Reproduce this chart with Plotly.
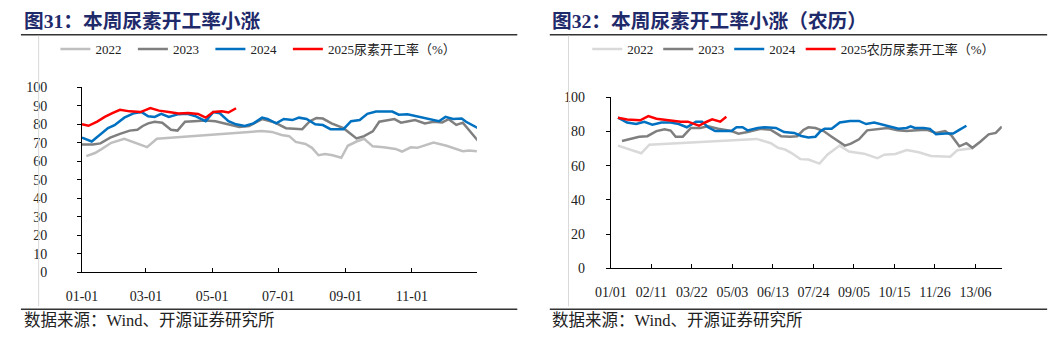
import plotly.graph_objects as go

W, H = 1057, 342

# ---------------- Left panel (calendar day of year) ----------------
tick_days_L = [0, 59, 120, 181, 243, 304, 364]
tick_text_L = ["01-01", "03-01", "05-01", "07-01", "09-01", "11-01", ""]

days_2022_L = [4, 12, 18, 27, 39, 60, 69, 166, 175, 184, 191, 197, 206, 212, 218, 224, 231, 239,
               245, 253, 260, 268, 278, 289, 295, 303, 309, 324, 336, 351, 357, 364]
vals_2022_L = [62.8, 64.5, 66.6, 70.0, 72.2, 67.7, 72.2, 76.4, 75.9, 74.2, 73.6, 70.5, 69.4, 67.3,
               63.3, 63.9, 63.3, 61.9, 68.4, 70.7, 72.2, 68.1, 67.6, 66.7, 65.3, 67.6, 67.3, 70.2,
               68.4, 65.5, 65.8, 65.5]

days_2023_L = [0, 10, 17, 26, 35, 44, 51, 56, 61, 67, 74, 82, 88, 95, 103, 114, 123, 129, 138,
               145, 154, 166, 178, 188, 203, 210, 216, 222, 230, 241, 253, 260, 268, 274, 288,
               294, 301, 307, 316, 324, 332, 338, 345, 351, 365]
vals_2023_L = [69.1, 69.1, 69.7, 72.8, 74.8, 76.6, 77.1, 79.1, 80.5, 81.4, 80.9, 77.1, 76.6, 81.4,
               81.7, 82.1, 81.7, 80.9, 79.5, 78.6, 79.1, 82.8, 80.9, 77.9, 77.4, 81.7, 83.4, 83.1,
               80.5, 77.9, 72.4, 73.6, 76.2, 81.4, 82.8, 80.9, 81.7, 82.3, 80.5, 81.4, 81.0, 82.8,
               79.7, 80.9, 71.1]

days_2024_L = [0, 9, 24, 30, 39, 48, 55, 61, 67, 73, 80, 89, 97, 105, 114, 121, 127, 135, 142,
               150, 158, 166, 171, 179, 186, 194, 200, 207, 215, 222, 229, 241, 248, 256, 263,
               271, 286, 292, 300, 307, 315, 322, 329, 335, 342, 350, 354, 365]
vals_2024_L = [72.8, 70.7, 78.0, 79.5, 83.6, 86.0, 86.6, 84.3, 84.0, 85.7, 84.0, 85.5, 85.7, 84.3,
               81.7, 86.6, 86.0, 81.7, 80.0, 79.1, 80.5, 83.6, 82.9, 80.5, 82.9, 82.3, 83.6, 82.9,
               80.0, 79.6, 77.4, 77.4, 81.7, 82.3, 85.7, 86.9, 86.9, 85.2, 85.4, 84.5, 83.6, 82.3,
               81.7, 84.0, 82.9, 83.1, 81.4, 77.9]

days_2025_L = [0, 6, 14, 21, 28, 35, 44, 54, 63, 71, 80, 89, 98, 107, 114, 121, 129, 135, 142]
vals_2025_L = [80.0, 79.2, 81.5, 84.0, 86.0, 87.8, 87.0, 86.6, 88.8, 87.4, 86.6, 85.9, 86.1, 85.6,
               83.6, 86.7, 87.0, 86.4, 88.7]

# ---------------- Right panel (lunar calendar day index) ----------------
tick_days_R = [0, 40, 80, 120, 160, 200, 240, 280, 320, 360]
tick_text_R = ["01/01", "02/11", "03/22", "05/03", "06/13", "07/24", "09/05", "10/15", "11/26", "13/06"]

days_2022_R = [7, 17, 30, 38, 144, 158, 165, 172, 178, 187, 195, 206, 214, 226, 235, 250, 263, 270,
               281, 292, 304, 316, 326, 335, 342, 351, 357]
vals_2022_R = [71.7, 69.8, 67.2, 72.2, 75.6, 73.1, 70.4, 69.4, 67.5, 63.8, 63.6, 61.2, 66.5, 71.7,
               68.2, 67.0, 64.3, 66.4, 66.8, 69.1, 67.8, 65.6, 65.2, 65.2, 69.0, 69.6, 70.2]

days_2023_R = [11, 19, 28, 36, 45, 53, 59, 64, 71, 79, 88, 96, 106, 119, 126, 135, 148, 158, 168,
               177, 184, 190, 195, 202, 210, 218, 231, 237, 245, 253, 263, 273, 283, 292, 302, 312,
               321, 330, 336, 344, 351, 357, 365, 373, 380, 386]
vals_2023_R = [74.4, 75.4, 76.9, 77.2, 80.2, 81.3, 80.5, 76.9, 76.9, 82.0, 82.0, 83.0, 81.5, 80.2,
               78.7, 79.6, 81.5, 80.9, 77.2, 76.9, 77.2, 80.8, 82.4, 82.0, 80.2, 76.9, 71.7, 72.8,
               75.4, 80.6, 81.5, 82.0, 80.6, 80.2, 80.6, 80.9, 79.1, 80.2, 77.8, 71.3, 73.1, 70.4,
               74.1, 78.3, 79.1, 82.8]

days_2024_R = [7, 16, 25, 33, 41, 50, 59, 67, 75, 84, 90, 96, 103, 119, 124, 130, 135, 145, 152,
               163, 171, 181, 188, 195, 202, 207, 211, 218, 226, 236, 245, 252, 260, 266, 276,
               284, 292, 296, 300, 309, 315, 321, 330, 338, 344, 351]
vals_2024_R = [88.0, 85.2, 84.3, 85.6, 83.9, 85.2, 85.2, 84.3, 82.4, 85.7, 85.7, 82.4, 80.2, 80.2,
               82.4, 82.4, 80.6, 82.0, 82.4, 82.0, 79.6, 79.1, 77.3, 76.5, 76.9, 80.2, 81.5, 81.5,
               85.2, 86.1, 86.1, 84.3, 85.2, 84.3, 83.0, 81.5, 82.0, 83.0, 82.0, 82.0, 81.5, 78.3,
               78.7, 78.7, 80.9, 83.3]

days_2025_R = [7, 16, 29, 37, 45, 53, 61, 69, 76, 82, 87, 93, 100, 108, 114]
vals_2025_R = [88.0, 87.0, 86.5, 88.9, 87.4, 86.7, 86.1, 85.7, 85.7, 84.6, 83.3, 85.2, 87.0, 85.7, 88.5]

NB = "\u00a0\u00a0"
series_names_L = ["2022" + NB, "2023" + NB, "2024" + NB, "2025尿素开工率（%）"]
series_names_R = ["2022", "2023", "2024", "2025农历尿素开工率（%）"]
colors_L = ["#BFBFBF", "#7F7F7F", "#0070C0", "#FF0000"]
colors_R = ["#D9D9D9", "#7F7F7F", "#0070C0", "#FF0000"]

SERIF = "Liberation Serif, 'Noto Sans CJK SC', serif"
CJK = "'Liberation Serif', 'Noto Sans CJK SC', sans-serif"

fig = go.Figure()
left = [(days_2022_L, vals_2022_L), (days_2023_L, vals_2023_L), (days_2024_L, vals_2024_L), (days_2025_L, vals_2025_L)]
right = [(days_2022_R, vals_2022_R), (days_2023_R, vals_2023_R), (days_2024_R, vals_2024_R), (days_2025_R, vals_2025_R)]
for (xs, ys), name, c in zip(left, series_names_L, colors_L):
    fig.add_trace(go.Scatter(x=xs, y=ys, mode="lines", name=name, line=dict(color=c, width=2.5),
                             xaxis="x", yaxis="y", legend="legend"))
for (xs, ys), name, c in zip(right, series_names_R, colors_R):
    fig.add_trace(go.Scatter(x=xs, y=ys, mode="lines", name=name, line=dict(color=c, width=2.5),
                             xaxis="x2", yaxis="y2", legend="legend2"))

def px(x):
    return x / W

def py(y):
    return 1 - y / H

axis_common = dict(showline=True, linecolor="black", linewidth=1, showgrid=False, zeroline=False,
                   tickcolor="black", tickfont=dict(family=SERIF, size=14, color="#222"))

fig.update_layout(
    width=W, height=H, margin=dict(l=0, r=0, t=0, b=0),
    paper_bgcolor="white", plot_bgcolor="white",
    xaxis=dict(domain=[px(67), px(468)], range=[0, 364], tickmode="array", tickvals=tick_days_L,
               ticktext=tick_text_L, ticks="inside", ticklen=4, anchor="y", ticklabelstandoff=11,
               **axis_common),
    yaxis=dict(domain=[py(277.5), py(84)], range=[0, 100], dtick=10, ticks="outside", ticklen=4,
               anchor="x", ticklabelstandoff=27, **axis_common),
    xaxis2=dict(domain=[px(604), px(1001)], range=[0, 386], tickmode="array", tickvals=tick_days_R,
                ticktext=tick_text_R, ticks="inside", ticklen=4, anchor="y2", ticklabelstandoff=11,
                **axis_common),
    yaxis2=dict(domain=[py(273.3), py(94.3)], range=[0, 100], dtick=20, ticks="outside", ticklen=4,
                anchor="x2", ticklabelstandoff=18, **axis_common),
    legend=dict(x=px(40), y=py(44), xanchor="left", yanchor="middle", orientation="h",
                font=dict(family=CJK, size=13, color="#222"), bgcolor="rgba(0,0,0,0)",
                itemwidth=30, tracegroupgap=0),
    legend2=dict(x=px(580), y=py(44), xanchor="left", yanchor="middle", orientation="h",
                 font=dict(family=CJK, size=13, color="#222"), bgcolor="rgba(0,0,0,0)",
                 itemwidth=30, tracegroupgap=0),
    showlegend=True,
)

shapes = []
for x0, x1 in [(5, 509), (542, 1047)]:
    shapes.append(dict(type="line", xref="paper", yref="paper", x0=px(x0), x1=px(x1), y0=py(29), y1=py(29),
                       line=dict(color="#333333", width=1.5)))
    shapes.append(dict(type="line", xref="paper", yref="paper", x0=px(x0), x1=px(x1), y0=py(316), y1=py(316),
                       line=dict(color="#333333", width=1.5)))
for xv in [23, 561]:
    shapes.append(dict(type="line", xref="paper", yref="paper", x0=px(xv), x1=px(xv), y0=py(30), y1=py(313),
                       line=dict(color="#D9D9D9", width=1)))
fig.update_layout(shapes=shapes)

title_color = "#1F2A6B"
annotations = [
    dict(text="<b>图31：本周尿素开工率小涨</b>", x=px(6), y=py(15)),
    dict(text="<b>图32：本周尿素开工率小涨（农历）</b>", x=px(542), y=py(15)),
]
for a in annotations:
    a.update(xref="paper", yref="paper", xanchor="left", yanchor="middle", showarrow=False,
             font=dict(family=CJK, size=19.7, color=title_color))
src = [
    dict(text="数据来源：Wind、开源证券研究所", x=px(6), y=py(328)),
    dict(text="数据来源：Wind、开源证券研究所", x=px(542), y=py(328)),
]
for a in src:
    a.update(xref="paper", yref="paper", xanchor="left", yanchor="middle", showarrow=False,
             font=dict(family=CJK, size=16.5, color="#222"))
fig.update_layout(annotations=annotations + src)

fig.write_html("out.html")
